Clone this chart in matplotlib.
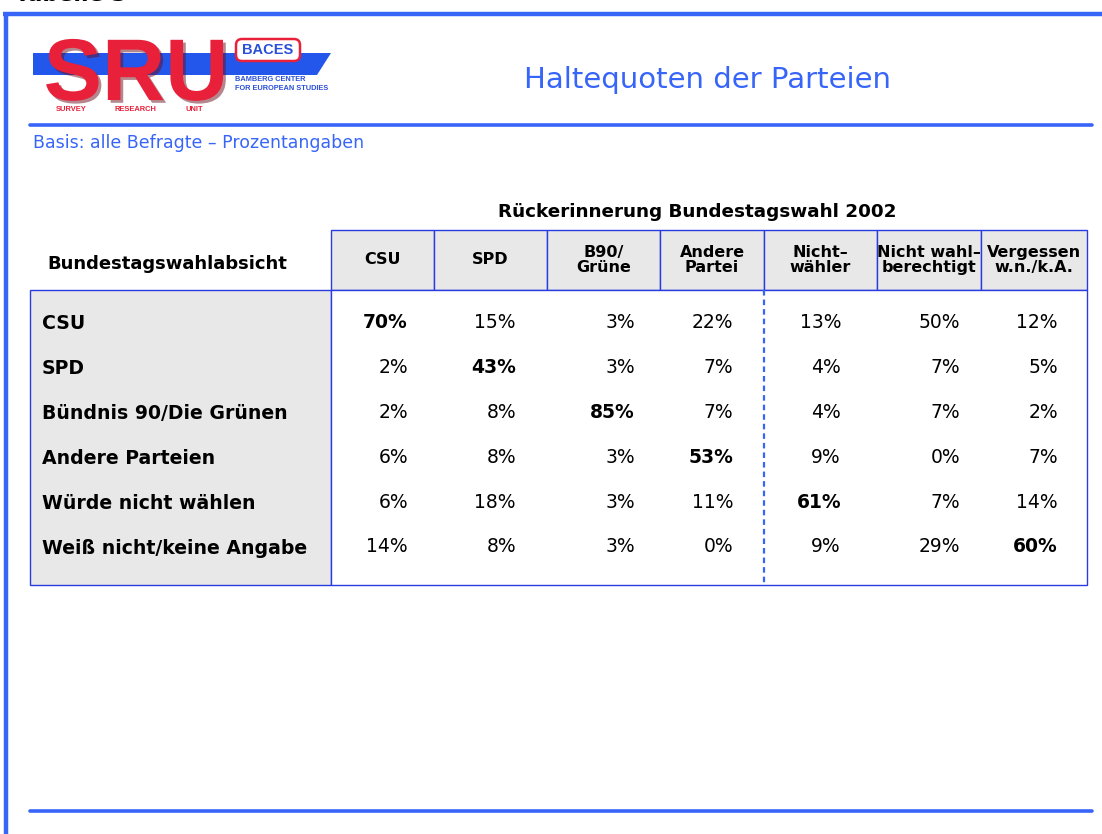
import matplotlib
matplotlib.use("Agg")
import matplotlib.pyplot as plt
import matplotlib.patheffects as pe
from matplotlib.patches import Rectangle, Polygon, FancyBboxPatch

# ---- data ----
row_labels = ["CSU", "SPD", "Bündnis 90/Die Grünen", "Andere Parteien",
              "Würde nicht wählen", "Weiß nicht/keine Angabe"]
col_labels = ["CSU", "SPD", "B90/\nGrüne", "Andere\nPartei", "Nicht–\nwähler",
              "Nicht wahl–\nberechtigt", "Vergessen\nw.n./k.A."]
csu_row = [70, 15, 3, 22, 13, 50, 12]
spd_row = [2, 43, 3, 7, 4, 7, 5]
b90_row = [2, 8, 85, 7, 4, 7, 2]
andere_row = [6, 8, 3, 53, 9, 0, 7]
nichtwaehlen_row = [6, 18, 3, 11, 61, 7, 14]
weissnicht_row = [14, 8, 3, 0, 9, 29, 60]
values = [csu_row, spd_row, b90_row, andere_row, nichtwaehlen_row, weissnicht_row]
# column index of the "loyal" (bold) cell per row
bold_col = [0, 1, 2, 3, 4, 6]

title = "Haltequoten der Parteien"
subtitle = "Basis: alle Befragte – Prozentangaben"
col_group_title = "Rückerinnerung Bundestagswahl 2002"
row_group_title = "Bundestagswahlabsicht"

# ---- layout (pixel coordinates) ----
W, H = 1102, 834
fig = plt.figure(figsize=(W / 100, H / 100), dpi=100)
ax = fig.add_axes([0, 0, 1, 1])
ax.set_xlim(0, W)
ax.set_ylim(H, 0)
ax.axis("off")

BLUE = "#3765F8"
BORDER = "#2A3CE0"
GREY = "#E8E8E8"
RED = "#E8203A"
LOGO_BLUE = "#2A4FD8"
FONT = "DejaVu Sans"

# cropped caption at very top
ax.text(15, 5, "Tabelle 3", fontsize=16, fontweight="bold", color="black",
        va="bottom", ha="left", family=FONT)

# frame lines
ax.plot([3, W], [14, 14], color=BLUE, lw=3.2, solid_capstyle="butt")
ax.plot([5.5, 5.5], [12, H], color=BLUE, lw=3.2, solid_capstyle="butt")
ax.plot([30, 1092], [125, 125], color=BLUE, lw=2.6, solid_capstyle="round")
ax.plot([30, 1092], [811, 811], color=BLUE, lw=2.6, solid_capstyle="round")

# ---- logo ----
ax.add_patch(Polygon([[33, 53], [331, 53], [317, 75], [33, 75]], closed=True,
                     facecolor="#2356EA", edgecolor="none"))
ax.text(136, 100, "SRU", fontsize=63, fontweight="bold", color=RED,
        ha="center", va="baseline", family="Liberation Sans",
        path_effects=[pe.withSimplePatchShadow(offset=(2, -2), shadow_rgbFace="#6a1020",
                                               alpha=0.5)])
ax.add_patch(FancyBboxPatch((236, 39), 64, 22, boxstyle="round,pad=0,rounding_size=6",
                            facecolor="white", edgecolor=RED, lw=1.8))
ax.text(268, 50, "BACES", fontsize=10.5, fontweight="bold", color=LOGO_BLUE,
        ha="center", va="center", family="Liberation Sans")
ax.text(235, 79, "BAMBERG CENTER", fontsize=5.3, fontweight="bold", color=LOGO_BLUE,
        ha="left", va="center", family="Liberation Sans")
ax.text(235, 88, "FOR EUROPEAN STUDIES", fontsize=5.3, fontweight="bold", color=LOGO_BLUE,
        ha="left", va="center", family="Liberation Sans")
for lbl, xx in [("SURVEY", 71), ("RESEARCH", 135), ("UNIT", 194)]:
    ax.text(xx, 109, lbl, fontsize=5.4, fontweight="bold", color=RED,
            ha="center", va="center", family="Liberation Sans")

# title + subtitle
ax.text(707, 80, title, fontsize=21, color=BLUE, ha="center", va="center", family=FONT)
ax.text(33, 143, subtitle, fontsize=12.5, color=BLUE, ha="left", va="center", family=FONT)

# ---- table ----
col_edges = [331, 434, 547, 660, 764, 877, 981, 1087]
value_right = [408, 516, 635, 733, 841, 960, 1058]
head_top, head_bot = 230, 290
body_top, body_bot = 290, 585
row_y0, row_dy = 322, 45

ax.text(697, 212, col_group_title, fontsize=13.2, fontweight="bold", color="black",
        ha="center", va="center", family=FONT)
ax.text(47, 264, row_group_title, fontsize=13, fontweight="bold", color="black",
        ha="left", va="center", family=FONT)

# header cells
for i, lbl in enumerate(col_labels):
    x0, x1 = col_edges[i], col_edges[i + 1]
    ax.add_patch(Rectangle((x0, head_top), x1 - x0, head_bot - head_top,
                           facecolor=GREY, edgecolor=BORDER, lw=1))
    ax.text((x0 + x1) / 2, (head_top + head_bot) / 2, lbl, fontsize=11.5,
            fontweight="bold", color="black", ha="center", va="center",
            linespacing=1.05, family=FONT)

# body
ax.add_patch(Rectangle((30, body_top), col_edges[0] - 30, body_bot - body_top,
                       facecolor=GREY, edgecolor=BORDER, lw=1))
ax.add_patch(Rectangle((col_edges[0], body_top), col_edges[-1] - col_edges[0],
                       body_bot - body_top, facecolor="white", edgecolor=BORDER, lw=1))
ax.plot([col_edges[4], col_edges[4]], [body_top, body_bot], color=BLUE, lw=1.6,
        linestyle=(0, (2.5, 1.8)))

for r, lbl in enumerate(row_labels):
    y = row_y0 + r * row_dy
    ax.text(42, y + 1.5, lbl, fontsize=13.6, fontweight="bold", color="black",
            ha="left", va="center", family=FONT)
    for c, v in enumerate(values[r]):
        ax.text(value_right[c], y, f"{v}%", fontsize=13.5,
                fontweight="bold" if c == bold_col[r] else "normal", color="black",
                ha="right", va="center", family=FONT)

fig.savefig("out.png", dpi=100)
